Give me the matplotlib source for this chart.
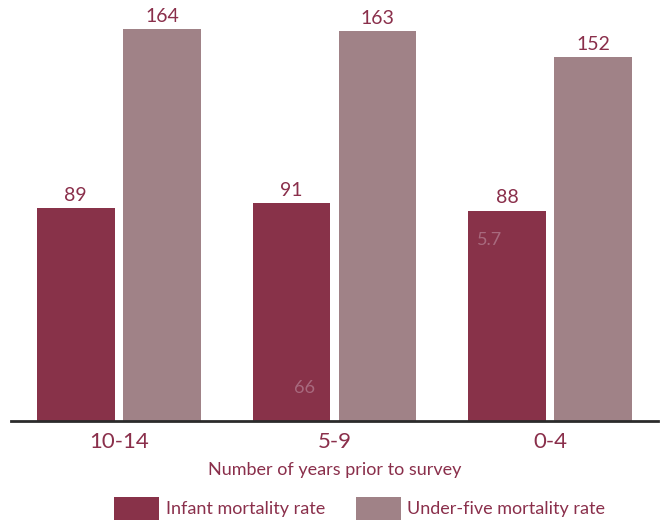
import matplotlib.pyplot as plt
import numpy as np

# data
periods = ['10-14', '5-9', '0-4']
infant = [89, 91, 88]
under_five = [164, 163, 152]
series_names = ['Infant mortality rate', 'Under-five mortality rate']

# faint stray labels sitting inside the bars
stray_text = ['5.7', '66']
stray_x = [1.72, 0.86]
stray_y = [75.5, 14]

c_inf = '#883249'
c_u5 = '#a08287'
c_txt = '#8a2f4b'

plt.rcParams['font.family'] = ['Lato', 'DejaVu Sans']

fig = plt.figure(figsize=(6.6, 5.21), dpi=100)
ax = fig.add_axes([11 / 660, 100 / 521, 647 / 660, 421 / 521])

x = np.arange(len(periods))
w = 0.36
b1 = ax.bar(x - 0.2, infant, w, color=c_inf, label=series_names[0])
b2 = ax.bar(x + 0.2, under_five, w, color=c_u5, label=series_names[1])

ax.bar_label(b1, padding=3, color=c_txt, fontsize=14)
ax.bar_label(b2, padding=3, color=c_txt, fontsize=14)

for t, sx, sy in zip(stray_text, stray_x, stray_y):
    ax.text(sx, sy, t, color='#a86a7e', fontsize=13, ha='center', va='center')

ax.set_xlim(-0.5, 2.5)
ax.set_ylim(0, 176)
ax.set_xticks(x)
ax.set_xticklabels(periods, color=c_txt, fontsize=16)
ax.tick_params(axis='x', length=0, pad=8)
ax.set_yticks([])
for s in ['left', 'right', 'top']:
    ax.spines[s].set_visible(False)
ax.spines['bottom'].set_color('#2b2b2b')
ax.spines['bottom'].set_linewidth(2)

ax.set_xlabel('Number of years prior to survey', color=c_txt, fontsize=13, labelpad=7)

fig.legend(handles=[b1, b2], loc='center', bbox_to_anchor=(0.545, 0.024),
           ncol=2, frameon=False, fontsize=13, handlelength=2.5,
           handleheight=1.55, handletextpad=0.35, columnspacing=1.7,
           labelcolor=c_txt)

fig.savefig('out.png', dpi=100)
